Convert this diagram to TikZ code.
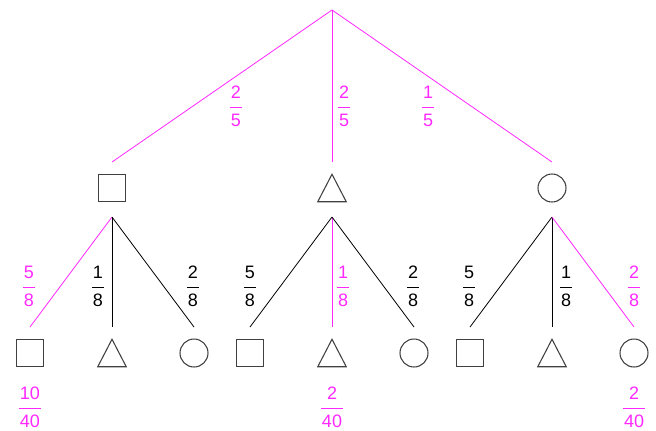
\documentclass[tikz,border=0pt]{standalone}
\usepackage{fontspec}
\setmainfont{Liberation Sans}
\usetikzlibrary{calc}
\definecolor{pk}{RGB}{255,40,255}
\definecolor{sh}{RGB}{64,64,64}
% stacked fraction: numerator, rule, denominator
\newcommand{\frc}[2]{{\setlength{\arrayrulewidth}{0.75pt}\setlength{\tabcolsep}{0.9pt}\begin{tabular}{c}#1\\\hline #2\end{tabular}}}
\begin{document}
\begin{tikzpicture}[x=0.75pt,y=-0.75pt,
  sq/.style={draw=sh,line width=0.8pt,minimum size=20.25pt,inner sep=0},
  ci/.style={draw=sh,line width=0.8pt,circle,minimum size=21pt,inner sep=0},
  tribox/.style={minimum width=21pt,minimum height=20.25pt,inner sep=0},
  tri/.style={draw=sh,line width=0.8pt,line join=miter},
  pe/.style={draw=pk,line width=0.6pt},
  be/.style={draw=black,line width=0.6pt},
  lab/.style={font=\fontsize{13.5}{20.25}\selectfont,inner sep=0},
  pl/.style={lab,text=pk},
  bl/.style={lab,text=black}]
\useasboundingbox (0,0) rectangle (656,430);

\coordinate (root) at (332,10);

% first level
\node[sq] (A) at (112,188) {};
\node[tribox] (B) at (332,188) {};
\node[ci] (C) at (552,188) {};
\draw[tri] (B.south west) -- (B.north) -- (B.south east) -- cycle;

% second level
\node[sq] (A1) at (30,353) {};
\node[tribox] (A2) at (112,353) {};
\node[ci] (A3) at (194,353) {};
\node[sq] (B1) at (250,353) {};
\node[tribox] (B2) at (332,353) {};
\node[ci] (B3) at (414,353) {};
\node[sq] (C1) at (470,353) {};
\node[tribox] (C2) at (552,353) {};
\node[ci] (C3) at (634,353) {};
\foreach \t in {A2,B2,C2}
  \draw[tri] (\t.south west) -- (\t.north) -- (\t.south east) -- cycle;

% connector end points
\foreach \n in {A,B,C}{
  \coordinate (\n-in) at ($(\n)+(0,-26)$);
  \coordinate (\n-out) at ($(\n)+(0,29)$);
}
\foreach \n in {A1,A2,A3,B1,B2,B3,C1,C2,C3}
  \coordinate (\n-in) at ($(\n)+(0,-26)$);

% connectors
\draw[pe] (root) -- (A-in);
\draw[pe] (root) -- (B-in);
\draw[pe] (root) -- (C-in);

\draw[pe] (A-out) -- (A1-in);
\draw[be] (A-out) -- (A2-in);
\draw[be] (A-out) -- (A3-in);
\draw[be] (B-out) -- (B1-in);
\draw[pe] (B-out) -- (B2-in);
\draw[be] (B-out) -- (B3-in);
\draw[be] (C-out) -- (C1-in);
\draw[be] (C-out) -- (C2-in);
\draw[pe] (C-out) -- (C3-in);

% probabilities
\node[pl] (pA) at (236,107) {\frc{2}{5}};
\node[pl] (pB) at (344,107) {\frc{2}{5}};
\node[pl] (pC) at (428,107) {\frc{1}{5}};

\node[pl] (pA1) at (29,287) {\frc{5}{8}};
\node[bl] (pA2) at (98,287) {\frc{1}{8}};
\node[bl] (pA3) at (193,287) {\frc{2}{8}};
\node[bl] (pB1) at (250,287) {\frc{5}{8}};
\node[pl] (pB2) at (343,287) {\frc{1}{8}};
\node[bl] (pB3) at (413,287) {\frc{2}{8}};
\node[bl] (pC1) at (469,287) {\frc{5}{8}};
\node[bl] (pC2) at (566,287) {\frc{1}{8}};
\node[pl] (pC3) at (634,287) {\frc{2}{8}};

\node[pl] (rA1) at (30,408) {\frc{10}{40}};
\node[pl] (rB2) at (332,408) {\frc{2}{40}};
\node[pl] (rC3) at (634,408) {\frc{2}{40}};
\end{tikzpicture}
\end{document}
